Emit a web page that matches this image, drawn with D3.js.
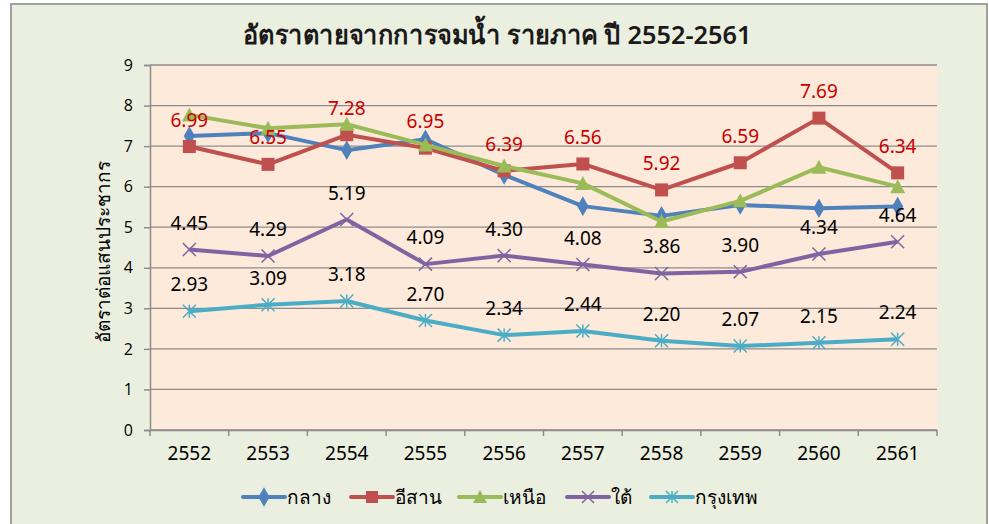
<!DOCTYPE html>
<html>
<head>
<meta charset="utf-8">
<script src="https://cdn.jsdelivr.net/npm/d3@7"></script>
<style>
  body { margin: 0; background: #fff; }
  text { font-family: "Noto Sans", "Open Sans", "DejaVu Sans", sans-serif; }
</style>
</head>
<body>
<div id="canvas"></div>
<script>
const years = ["2552","2553","2554","2555","2556","2557","2558","2559","2560","2561"];
const central = [7.25,7.32,6.90,7.17,6.29,5.52,5.28,5.55,5.47,5.51];
const northeast = [6.99,6.55,7.28,6.95,6.39,6.56,5.92,6.59,7.69,6.34];
const north = [7.77,7.44,7.54,7.03,6.51,6.08,5.14,5.65,6.48,6.00];
const south = [4.45,4.29,5.19,4.09,4.30,4.08,3.86,3.90,4.34,4.64];
const bangkok = [2.93,3.09,3.18,2.70,2.34,2.44,2.20,2.07,2.15,2.24];
const names = ["กลาง","อีสาน","เหนือ","ใต้","กรุงเทพ"];
const yTicks = [0,1,2,3,4,5,6,7,8,9];

const series = [
  { name: names[0], values: central, color: "#4F81BD", marker: "diamond", label: null },
  { name: names[1], values: northeast, color: "#C0504D", marker: "square", label: "#C80000" },
  { name: names[2], values: north, color: "#9BBB59", marker: "triangle", label: null },
  { name: names[3], values: south, color: "#8064A2", marker: "x", label: "#000" },
  { name: names[4], values: bangkok, color: "#4BACC6", marker: "star", label: "#000" }
];

const width = 989;
const height = 524;
const margin = { top: 65, left: 150, bottom: 94, right: 52 };
const iwidth = width - margin.left - margin.right;
const iheight = height - margin.top - margin.bottom;

const svg = d3.select("#canvas").append("svg")
  .attr("width", width)
  .attr("height", height);

svg.append("rect")
  .attr("x", 11).attr("y", 4)
  .attr("width", 976).attr("height", 530)
  .attr("fill", "#EBEFDF")
  .attr("stroke", "#A0A0A0")
  .attr("stroke-width", 2);

svg.append("text")
  .attr("x", 497).attr("y", 44)
  .attr("text-anchor", "middle")
  .attr("font-size", 26)
  .attr("font-weight", 600)
  .attr("fill", "#1a1a1a")
  .attr("textLength", 509)
  .attr("lengthAdjust", "spacingAndGlyphs")
  .text("อัตราตายจากการจมน้ำ รายภาค ปี 2552-2561");

const g = svg.append("g").attr("transform", `translate(${margin.left},${margin.top})`);

g.append("rect")
  .attr("width", iwidth).attr("height", iheight)
  .attr("fill", "#FDEADA");

const x = d3.scaleBand().domain(years).range([0, iwidth]);
const cx = d => x(d) + x.bandwidth() / 2;
const y = d3.scaleLinear().domain([0, 9]).range([iheight, 0]);

// gridlines
g.append("g")
  .selectAll("line")
  .data(yTicks)
  .enter().append("line")
  .attr("x1", 0).attr("x2", iwidth)
  .attr("y1", d => y(d)).attr("y2", d => y(d))
  .attr("stroke", "#8C8C8C")
  .attr("stroke-width", 1.3);

// y axis
const yAxis = g.append("g")
  .call(d3.axisLeft(y).tickValues(yTicks).tickSize(6).tickPadding(11).tickFormat(d3.format("d")));
yAxis.selectAll("line, path").attr("stroke", "#8C8C8C").attr("stroke-width", 1.5);
yAxis.selectAll("text").attr("font-size", 16).attr("fill", "#000")
  .style("font-family", "'Open Sans', sans-serif");

// x axis
const xAxis = g.append("g")
  .attr("transform", `translate(0,${iheight})`)
  .call(d3.axisBottom(x).tickSize(0).tickPadding(17));
xAxis.select("path").attr("stroke", "#8C8C8C").attr("stroke-width", 1.5);
xAxis.selectAll("text").attr("font-size", 19).attr("fill", "#000");
g.append("g")
  .selectAll("line")
  .data(d3.range(years.length + 1))
  .enter().append("line")
  .attr("x1", i => i * x.bandwidth()).attr("x2", i => i * x.bandwidth())
  .attr("y1", iheight).attr("y2", iheight + 6)
  .attr("stroke", "#8C8C8C").attr("stroke-width", 1.5);

// y axis title
svg.append("text")
  .attr("transform", "translate(110,252) rotate(-90)")
  .attr("text-anchor", "middle")
  .attr("font-size", 19)
  .attr("fill", "#000")
  .text("อัตราต่อแสนประชากร");

function drawMarker(sel, type, color, s) {
  if (type === "diamond") {
    sel.append("path").attr("d", d3.symbol(d3.symbolDiamond, 110)()).attr("fill", color);
  } else if (type === "square") {
    sel.append("rect").attr("x", -s).attr("y", -s).attr("width", 2 * s).attr("height", 2 * s)
      .attr("fill", color);
  } else if (type === "triangle") {
    sel.append("path").attr("d", `M0,${-s - 1}L${s + 1},${s}L${-s - 1},${s}Z`).attr("fill", color);
  } else if (type === "x") {
    sel.append("path").attr("d", `M${-s},${-s}L${s},${s}M${-s},${s}L${s},${-s}`)
      .attr("stroke", color).attr("stroke-width", 1.5).attr("fill", "none");
  } else if (type === "star") {
    sel.append("path").attr("d", `M${-s},${-s}L${s},${s}M${-s},${s}L${s},${-s}M0,${-s}L0,${s}`)
      .attr("stroke", color).attr("stroke-width", 1.5).attr("fill", "none");
  }
}

const line = d3.line().x((d, i) => cx(years[i])).y(d => y(d));

series.forEach(s => {
  const sg = g.append("g");
  sg.append("path")
    .attr("d", line(s.values))
    .attr("fill", "none")
    .attr("stroke", s.color)
    .attr("stroke-width", 4)
    .attr("stroke-linejoin", "round");
  s.values.forEach((v, i) => {
    const m = sg.append("g").attr("transform", `translate(${cx(years[i])},${y(v)})`);
    drawMarker(m, s.marker, s.color, 6.5);
  });
});

// data labels
series.filter(s => s.label).forEach(s => {
  g.append("g")
    .selectAll("text")
    .data(s.values)
    .enter().append("text")
    .attr("x", (d, i) => cx(years[i]))
    .attr("y", d => y(d) - 20)
    .attr("text-anchor", "middle")
    .attr("font-size", 19)
    .attr("fill", s.label)
    .text(d => d.toFixed(2));
});

// legend
const legendX = [243, 351, 459, 567, 651];
const legend = svg.append("g").attr("transform", "translate(0,497)");
series.forEach((s, i) => {
  const lg = legend.append("g").attr("transform", `translate(${legendX[i]},0)`);
  lg.append("line").attr("x1", 0).attr("x2", 42).attr("y1", 0).attr("y2", 0)
    .attr("stroke", s.color).attr("stroke-width", 4).attr("stroke-linecap", "round");
  const m = lg.append("g").attr("transform", "translate(21,0)");
  drawMarker(m, s.marker, s.color, 6);
  lg.append("text").attr("x", 44).attr("y", 7)
    .attr("font-size", 19).attr("fill", "#000")
    .text(s.name);
});
</script>
</body>
</html>
